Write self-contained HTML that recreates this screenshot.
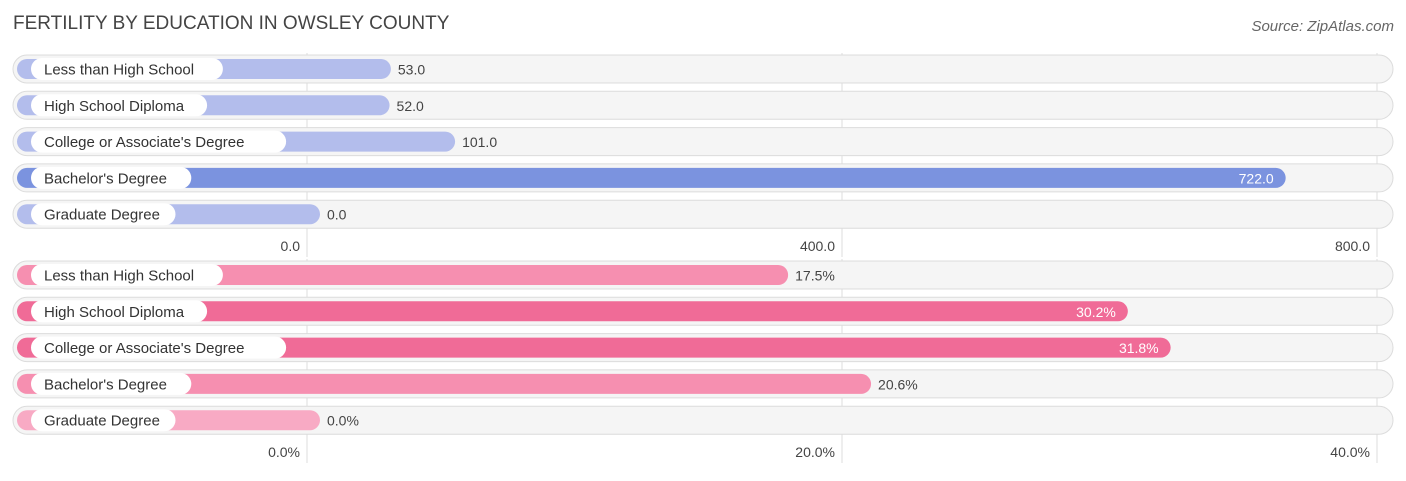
<!DOCTYPE html>
<html><head><meta charset="utf-8"><style>
body{margin:0;background:#fff;width:1406px;height:476px;overflow:hidden;font-family:"Liberation Sans",sans-serif}
text{font-family:"Liberation Sans",sans-serif}
</style></head><body>
<svg id="c" width="1406" height="476">
<text x="13" y="29" font-size="19" fill="#444">FERTILITY BY EDUCATION IN OWSLEY COUNTY</text>
<text x="1394" y="31" font-size="15" fill="#666" font-style="italic" text-anchor="end">Source: ZipAtlas.com</text>
</svg>
<script>
const categories = ["Less than High School","High School Diploma","College or Associate's Degree","Bachelor's Degree","Graduate Degree"];
const countValues = [53.0, 52.0, 101.0, 722.0, 0.0];
const pctValues = [17.5, 30.2, 31.8, 20.6, 0.0];
const countTicks = [0, 400, 800];
const pctTicks = [0, 20, 40];
const NS = "http://www.w3.org/2000/svg";
const svg = document.getElementById('c');
function mk(tag, attrs, parent){const e=document.createElementNS(NS,tag);for(const k in attrs)e.setAttribute(k,attrs[k]);(parent||svg).appendChild(e);return e;}
function drawPanel(vals, ticks, top, tickY, fmt, tickFmt, colorFn, panelName){
  const x0=307, span=1070, max=ticks[ticks.length-1];
  const sx=v=>x0+v/max*span;
  const g=mk('g',{});
  
  
  ticks.forEach(t=>{
    const l=mk('line',{x1:sx(t),x2:sx(t),y1:top-16,y2:tickY+6,stroke:'#ddd','stroke-width':1},g);
    
    
  });
  vals.forEach((v,i)=>{
    const cy=top+i*36.3;
    const row=mk('g',{},g);
    
    
    mk('rect',{x:13,y:cy-14,width:1380,height:28,rx:14,fill:'#f5f5f5',stroke:'#dcdcdc','stroke-width':1},row);
    const end=sx(v)+13;
    const bar=mk('rect',{x:17,y:cy-10,width:end-17,height:20,rx:10,fill:colorFn(v,i)},row);
    
    
    const tw=categories[i].length*7.9+26;
    mk('rect',{x:31,y:cy-11,width:tw,height:22,rx:11,fill:'#fff'},row);
    const lt=mk('text',{x:44,y:cy+5.5,'font-size':15,fill:'#333'},row);
    lt.textContent=categories[i];
    
    
    const inside = v/max>0.6;
    const vt=mk('text',{x:inside?end-12:end+7,y:cy+5.5,'font-size':14,fill:inside?'#fff':'#444','text-anchor':inside?'end':'start'},row);
    vt.textContent=fmt(v);
    
    
  });
  ticks.forEach((t,j)=>{
    const tt=mk('text',{x:sx(t)-7,y:tickY,'font-size':14,fill:'#444','text-anchor':'end'},g);
    tt.textContent=tickFmt(t);
    
    
  });
}
drawPanel(countValues,countTicks,69,251,v=>v.toFixed(1),t=>t.toFixed(1),(v,i)=>v===Math.max(...countValues)?'#7b93df':'#b3bdec','count-panel');
drawPanel(pctValues,pctTicks,275,457,v=>v.toFixed(1)+'%',t=>t.toFixed(1)+'%',(v,i)=>v>=30?'#f06b97':(v===0?'#f8aac4':'#f68fb0'),'percent-panel');
</script>
</body></html>
